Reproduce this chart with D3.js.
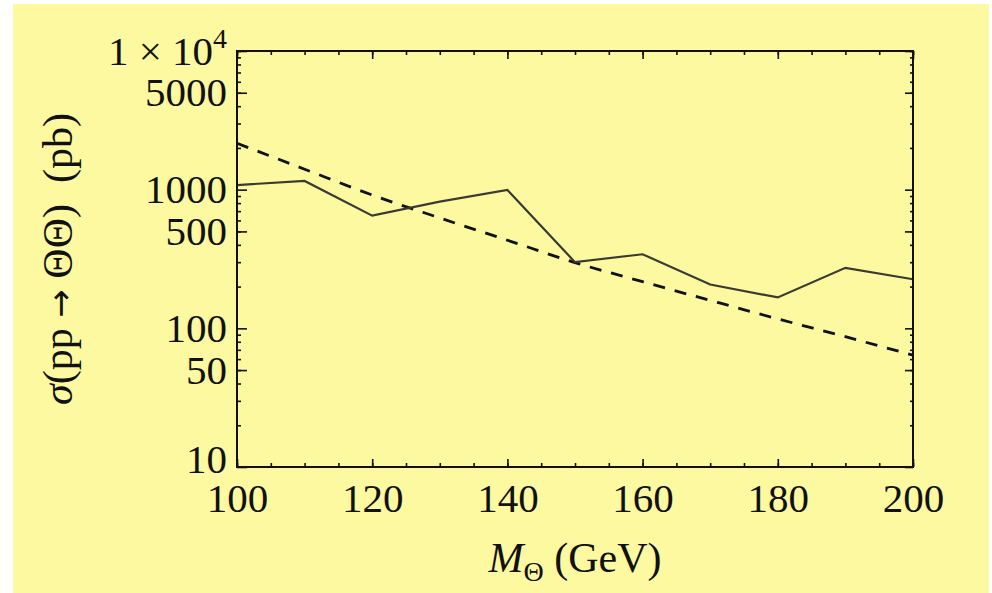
<!DOCTYPE html>
<html>
<head>
<meta charset="utf-8">
<script src="https://cdn.jsdelivr.net/npm/d3@7"></script>
<style>
  body { margin: 0; background: #fff; }
  svg { display: block; }
  text { font-family: "Liberation Serif", "DejaVu Serif", serif; fill: #111; }
</style>
</head>
<body>
<svg id="chart" width="992" height="593"></svg>
<script>
// masses (GeV)
const masses = [100, 110, 120, 130, 140, 150, 160, 170, 180, 190, 200];
// solid curve, cross section (pb)
const solidXsec = [1080, 1155, 650, 820, 995, 300, 342, 207, 167, 273, 226];
// dashed curve, cross section (pb)
const dashedXsec = [2160, 1405, 915, 625, 432, 298, 217, 159, 117, 87, 64];

const xMajorTicks = [100, 120, 140, 160, 180, 200];
const xMinorTicks = d3.range(100, 201, 5);
const yMajorTicks = [10, 50, 100, 500, 1000, 5000, 10000];
const yMinorTicks = [10, 100, 1000].flatMap(d => d3.range(2, 10).map(k => k * d)).concat([10000]);

const svg = d3.select("#chart");
const margin = { left: 237, top: 51, right: 79, bottom: 126 };
const W = 992, H = 593;
const iw = W - margin.left - margin.right;
const ih = H - margin.top - margin.bottom;

svg.append("rect")
  .attr("x", 13).attr("y", 4)
  .attr("width", 976).attr("height", 589)
  .attr("fill", "#fcf9a0");

const g = svg.append("g").attr("transform", `translate(${margin.left},${margin.top})`);

const x = d3.scaleLinear().domain([100, 200]).range([0, iw]);
const y = d3.scaleLog().domain([10, 10000]).range([ih, 0]);

// tick marks, all pointing into the frame
const tickAxis = (axis, scale, vals, len, tf) => {
  const a = g.append("g")
    .attr("transform", tf)
    .call(axis(scale).tickValues(vals).tickSize(-len).tickFormat(""));
  a.select(".domain").remove();
  a.selectAll("line").attr("stroke", "#111").attr("stroke-width", 1.6);
};

tickAxis(d3.axisBottom, x, xMinorTicks, 4, `translate(0,${ih})`);
tickAxis(d3.axisBottom, x, xMajorTicks, 8, `translate(0,${ih})`);
tickAxis(d3.axisTop, x, xMinorTicks, 4, "translate(0,0)");
tickAxis(d3.axisTop, x, xMajorTicks, 8, "translate(0,0)");
tickAxis(d3.axisLeft, y, yMinorTicks, 4, "translate(0,0)");
tickAxis(d3.axisLeft, y, yMajorTicks, 10, "translate(0,0)");
tickAxis(d3.axisRight, y, yMinorTicks, 3, `translate(${iw},0)`);
tickAxis(d3.axisRight, y, yMajorTicks, 8, `translate(${iw},0)`);

// labels
const xl = g.append("g")
  .attr("transform", `translate(0,${ih})`)
  .call(d3.axisBottom(x).tickValues(xMajorTicks).tickSize(0).tickPadding(16).tickFormat(d3.format("d")));
xl.select(".domain").remove();
xl.selectAll("text").attr("font-size", 41).attr("font-family", null).attr("fill", "#111");

const yl = g.append("g")
  .call(d3.axisLeft(y).tickValues(yMajorTicks).tickSize(0).tickPadding(10).tickFormat(d3.format("d")));
yl.select(".domain").remove();
yl.selectAll("text").attr("font-size", 41).attr("font-family", null).attr("fill", "#111");
yl.selectAll(".tick").filter(d => d === 10000).select("text")
  .attr("dy", "0.34em")
  .text(null)
  .call(t => {
    t.append("tspan").text("1 × 10");
    t.append("tspan").attr("font-size", 28).attr("dy", -17).text("4");
  });
yl.selectAll(".tick").filter(d => d === 10).select("text").attr("dy", "0.14em");

// curves
const line = d3.line().x((d, i) => x(masses[i])).y(d => y(d));

g.append("path")
  .datum(dashedXsec)
  .attr("fill", "none")
  .attr("stroke", "#111")
  .attr("stroke-width", 2.8)
  .attr("stroke-dasharray", "12,10")
  .attr("d", line.curve(d3.curveMonotoneX));

g.append("path")
  .datum(solidXsec)
  .attr("fill", "none")
  .attr("stroke", "#3a3a33")
  .attr("stroke-width", 2.2)
  .attr("d", line.curve(d3.curveLinear));

// frame
g.append("rect")
  .attr("width", iw).attr("height", ih)
  .attr("fill", "none").attr("stroke", "#111").attr("stroke-width", 2);

// axis titles
const xt = svg.append("text")
  .attr("x", 575).attr("y", 572)
  .attr("text-anchor", "middle")
  .attr("font-size", 42);
xt.append("tspan").attr("font-style", "italic").text("M");
xt.append("tspan").attr("font-size", 28).attr("dy", 9).text("Θ");
xt.append("tspan").attr("dy", -9).text(" (GeV)");

const yt = svg.append("text")
  .attr("transform", "translate(72,259) rotate(-90)")
  .attr("text-anchor", "middle")
  .attr("font-size", 42)
  .style("white-space", "pre");
yt.append("tspan").attr("font-style", "italic").text("σ");
yt.append("tspan").text("(pp ");
yt.append("tspan").attr("font-family", "DejaVu Sans").attr("font-size", 34).text("→");
yt.append("tspan").text(" ΘΘ)  (pb)");
</script>
</body>
</html>
